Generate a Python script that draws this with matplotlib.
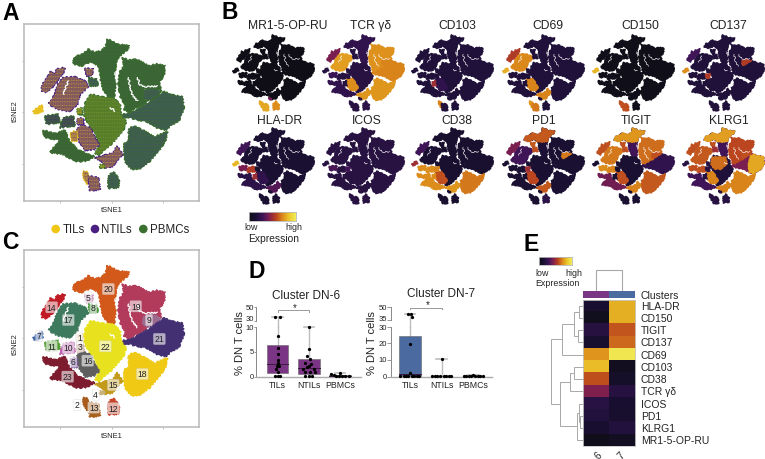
import matplotlib
matplotlib.use("Agg")
import matplotlib.pyplot as plt
from matplotlib.colors import LinearSegmentedColormap
from matplotlib.patches import Polygon, Circle

plt.rcParams['font.family'] = ['Liberation Sans', 'DejaVu Sans']
W, H = 765, 460
fig = plt.figure(figsize=(W/100, H/100), dpi=100)
GREY = '#b8b8b8'
TXT = '#222222'

# ------------------ data ------------------
CLUSTER_SHAPES = {
 20: [(320,125),(335,130),(350,140),(388,145),(380,160),(365,170),(352,183),(348,205),(342,235),(348,262),(342,300),(322,297),(310,275),(302,250),(300,225),(295,205),(272,192),(245,205),(218,198),(225,178),(248,170),(265,155),(285,165),(305,160),(318,145)],
 19: [(368,180),(385,188),(410,185),(445,205),(470,200),(495,205),(492,232),(478,255),(485,280),(455,275),(432,275),(425,300),(440,310),(432,322),(405,332),(388,345),(372,335),(375,320),(362,300),(355,265),(358,225),(372,205)],
 9:  [(432,278),(458,272),(482,282),(470,298),(445,310),(428,300)],
 21: [(362,352),(395,345),(430,325),(450,312),(480,292),(490,282),(515,292),(548,297),(552,335),(538,368),(510,385),(500,398),(470,390),(440,372),(405,365),(380,358),(360,367)],
 18: [(385,395),(402,385),(430,398),(462,418),(503,402),(495,432),(478,458),(450,490),(425,512),(395,515),(378,498),(372,470),(372,440),(388,425)],
 22: [(272,290),(300,297),(340,302),(360,318),(362,350),(378,372),(370,398),(345,428),(318,455),(296,472),(285,466),(298,442),(285,405),(270,388),(252,352),(255,318)],
 15: [(350,445),(368,470),(350,490),(340,505),(318,512),(305,490),(285,482),(318,472),(340,465)],
 16: [(245,382),(272,392),(285,422),(298,442),(282,455),(255,458),(240,435),(230,412),(230,395)],
 23: [(130,398),(165,408),(195,398),(208,430),(232,455),(262,470),(285,476),(262,490),(225,492),(190,470),(150,465),(165,445),(182,428),(150,422),(132,418)],
 17: [(190,240),(225,238),(258,252),(265,268),(240,290),(232,320),(208,342),(172,335),(145,318),(165,290),(172,262)],
 14: [(125,265),(145,235),(150,222),(165,230),(170,215),(195,210),(190,225),(165,260),(140,285),(125,280)],
 5:  [(255,212),(280,215),(275,235),(260,235)],
 8:  [(265,240),(290,245),(295,265),(270,265)],
 7:  [(100,340),(125,322),(130,340),(105,350)],
 11: [(135,355),(175,350),(180,375),(140,380)],
 10: [(190,360),(220,355),(225,385),(180,390)],
 1:  [(232,330),(245,330),(245,350),(232,350)],
 3:  [(230,360),(250,360),(250,380),(230,380)],
 6:  [(212,405),(230,400),(232,430),(215,430)],
 4:  [(300,500),(315,503),(312,512),(300,510)],
 2:  [(250,520),(265,525),(262,560),(250,540)],
 13: [(265,535),(295,540),(300,575),(270,580)],
 12: [(325,535),(340,522),(358,545),(355,570),(325,572)],
}
WHITE_GAPS = [[(412,240),(420,262),(440,268),(472,266)],[(385,240),(395,290),(412,310)],[(345,225),(352,250)],[(205,250),(190,290)],[(330,330),(345,340)]]
CLUSTER_COLORS = {20:'#d2591a',19:'#b23a5b',9:'#9c6a8e',21:'#433073',18:'#efc914',22:'#e8e21e',15:'#c49a1a',
 16:'#5e5e5e',23:'#7d1c2e',17:'#3e7a5e',14:'#c01a24',5:'#d7a0c8',8:'#4c9a3e',7:'#3a5fa8',11:'#56a038',
 10:'#c060b0',1:'#f0d8b8',3:'#c8a090',6:'#7d5a9e',4:'#c9b27a',2:'#a85a1a',13:'#a8601c',12:'#c8452a'}
CLUSTER_LABELS = {20:(325,195),19:(407,247),9:(447,288),21:(478,345),22:(316,367),18:(427,450),15:(340,483),
 16:(263,410),23:(203,458),17:(205,288),14:(155,250),5:(265,220),8:(280,252),7:(117,336),11:(155,367),
 10:(205,372),1:(238,340),3:(240,368),6:(220,413),4:(287,512),2:(232,543),13:(281,551),12:(340,553)}

T, N, P = '#e8c020', '#4b2080', '#3a6f2b'
G_N = '#3c5a42'   # green speckled with a little purple
G_N2 = '#45487a'  # green speckled with more purple
G_T = '#8a9a2a'   # green speckled with yellow
# base colour, speckle colour per cluster
TISSUE_MIX = {20:(P,G_N),19:(P,G_N),9:(P,G_N2),21:(P,G_N2),18:(P,G_N2),22:(P,G_T),15:(N,T),16:(N,T),23:(P,G_N),17:(N,T),14:(N,T),
 5:(N,T),8:(P,G_N2),7:(T,T),11:(P,N),10:(P,N),1:(P,T),3:(N,T),6:(T,N),4:(P,T),2:(T,N),13:(N,T),12:(P,G_N2)}

MARKERS = ['MR1-5-OP-RU','TCR γδ','CD103','CD69','CD150','CD137','HLA-DR','ICOS','CD38','PD1','TIGIT','KLRG1']
MARKER_BASE = [.01,.2,.17,.17,.02,.17,.14,.2,.13,.14,.14,.2]
MARKER_HIGH = {
 'MR1-5-OP-RU':{2:.78,13:.78,12:.72,4:.4},
 'TCR γδ':{17:.76,14:.42,19:.73,21:.7,18:.74,16:.72,15:.74,9:.7,20:.24,23:.24,11:.28,12:.22},
 'CD103':{6:.5,2:.7,16:.24},
 'CD69':{17:.71,16:.7,15:.7,14:.55,7:.8,2:.74,13:.68},
 'CD150':{7:.82,13:.6,2:.6},
 'CD137':{7:.72,9:.55,3:.55,14:.3},
 'HLA-DR':{7:.82,10:.55,11:.42,6:.5,16:.24,15:.34,23:.22,14:.3},
 'ICOS':{11:.32,3:.3},
 'CD38':{23:.72,15:.74,18:.68,11:.72,10:.72,16:.6,6:.72,3:.7,17:.14,14:.3,7:.5},
 'PD1':{20:.16,17:.3,14:.42,9:.68,16:.58,15:.62,5:.62,8:.6,3:.5,12:.22},
 'TIGIT':{20:.3,19:.66,21:.24,17:.68,14:.6,18:.62,15:.7,11:.72,10:.7,16:.6,23:.4,5:.6,8:.6,9:.6},
 'KLRG1':{20:.3,19:.58,21:.42,18:.7,22:.17,17:.62,14:.6,16:.7,15:.7,11:.6,10:.6,23:.3,5:.6,8:.5,9:.6},
}
TOP_20 = [(320,125),(335,130),(350,140),(388,145),(380,160),(365,170),(352,183),(348,205),(300,210),(272,192),(245,205),(218,198),(225,178),(248,170),(265,155),(285,165),(305,160),(318,145)]
RIGHT_21 = [(480,292),(490,282),(515,292),(548,297),(552,335),(538,368),(510,385),(500,398),(470,390),(465,335)]
TOP_22 = [(262,300),(300,297),(340,302),(345,340),(310,372),(275,370),(258,345)]
MARKER_PATCHES = {
 'KLRG1':[(TOP_20,.76),(RIGHT_21,.78),(TOP_22,.66)],
 'TIGIT':[(TOP_20,.74)],
 'PD1':[(TOP_20,.62)],
}
COLS_B = [233,323,412,503,593,683]
ROWS_B = [36,129]
TITLE_X = [288,371,457.5,548,640,728,280,367,457,544,636,729]

HEAT_ROWS = ['HLA-DR','CD150','TIGIT','CD137','CD69','CD103','CD38','TCR γδ','ICOS','PD1','KLRG1','MR1-5-OP-RU']
HEAT_6 = [.13,.05,.2,.12,.74,.83,.6,.43,.21,.18,.13,.04]
HEAT_7 = [.8,.8,.61,.65,.97,.06,.1,.2,.13,.12,.18,.07]
MERGES = [(0,1,11),(2,3,13),(12,13,26),(14,4,63),(5,6,25),(16,7,38),(9,10,9),(8,18,11),(19,11,16),(17,20,68),(15,21,95)]
EXPR_COLORS = ['#0e0e14','#1a1033','#3a1458','#7e1f4f','#b8401f','#dc8a1a','#ecc82c','#f2ee58']

CATS = ['TILs','NTILs','PBMCs']
DN6_BOX = {'TILs':(.8,2.5,6.3,0,35),'NTILs':(.5,1.7,3.5,0,9.9),'PBMCs':(0,.1,.3,0,.8)}
DN6_VALS = {'TILs':[35,35.5,8.1,5.7,4.5,3.3,2.7,2.2,1.5,2.2,.9,.1,.1,.1],
            'NTILs':[9.9,5.5,4.1,3.5,2.7,2.5,2.1,1.9,1.5,1.5,.9,.9,1.0,.1,.1,.1],
            'PBMCs':[.8,.5,.3,.2,.1,.1,.1,.1]}
DN6_JIT = {'TILs':[-.09,.08,0,0,0,0,0,-.03,-.06,.05,0,-.09,.08,0],
           'NTILs':[0,0,-.05,.03,-.13,.08,.01,-.07,-.2,.16,-.13,.03,.19,-.11,0,.11],
           'PBMCs':[0,-.29,-.21,-.14,-.05,.05,.16,.27]}
DN7_BOX = {'TILs':(.5,1.4,24.6,0,42.5),'NTILs':(0,.1,.3,0,10.8),'PBMCs':(0,.2,.6,0,1.3)}
DN7_VALS = {'TILs':[42.5,42,38.6,19.6,2,.7,.6,.6,.5,.5,.5,.6,.7],
            'NTILs':[10.8,.2,.2,.2,.2,.2,.2,.2,.2],
            'PBMCs':[1.2,.3,.3,.3,.3,.3,.3,.3,.3]}
DN7_JIT = {'TILs':[-.06,.02,.05,0,0,-.3,-.2,-.12,-.05,.05,.13,.21,.28],
           'NTILs':[0,-.3,-.22,-.14,-.06,.06,.14,.22,.3],
           'PBMCs':[0,-.3,-.22,-.14,-.06,.06,.14,.22,.3]}

# ------------------ helpers ------------------
def box_ax(x0, y0, x1, y1, **kw):
    return fig.add_axes([x0/W, 1-y1/H, (x1-x0)/W, (y1-y0)/H], **kw)
def label(x, y, s, size, **kw):
    kw.setdefault('ha','center'); kw.setdefault('va','center'); kw.setdefault('color',TXT)
    fig.text(x/W, 1-y/H, s, fontsize=size, **kw)
def rough(p, scale):
    p.set_sketch_params(scale=scale, length=3.5, randomness=3)
    return p

expr_cmap = LinearSegmentedColormap.from_list('expr', EXPR_COLORS)

def tsne_frame(y0, y1):
    ax = box_ax(24.3, y0, 198.7, y1)
    ax.set_xlim(73,596); ax.set_ylim(610,78)
    ax.set_xticks([181,335,488]); ax.set_yticks([190,343,498])
    ax.set_xticklabels([]); ax.set_yticklabels([])
    ax.tick_params(length=1.5, width=.6, color=GREY)
    for s in ax.spines.values():
        s.set_color(GREY); s.set_linewidth(1.1)
    return ax

def gaps(ax, lw):
    for g in WHITE_GAPS:
        ln, = ax.plot(*zip(*g), color='white', lw=lw, solid_capstyle='round')
        ln.set_sketch_params(scale=.8, length=4, randomness=3)

axA = tsne_frame(24.5, 202)
plt.rcParams['hatch.linewidth'] = .6
for c, pts in CLUSTER_SHAPES.items():
    face, sp = TISSUE_MIX[c]
    axA.add_patch(rough(Polygon(pts, closed=True, facecolor=face, edgecolor=face, linewidth=.9, joinstyle='round'), .8))
    axA.add_patch(Polygon(pts, closed=True, facecolor='none', edgecolor=sp, hatch='.'*12, linewidth=0))
gaps(axA, .9)

axC = tsne_frame(251, 428.3)
for c, pts in CLUSTER_SHAPES.items():
    axC.add_patch(rough(Polygon(pts, closed=True, facecolor=CLUSTER_COLORS[c], edgecolor=CLUSTER_COLORS[c], linewidth=.9, joinstyle='round'), .8))
gaps(axC, .9)
for c, (x, y) in CLUSTER_LABELS.items():
    axC.text(x, y, str(c), fontsize=6.2, ha='center', va='center', color='#222',
             bbox=dict(boxstyle='round,pad=0.12', fc='white', ec='#cccccc', lw=.4, alpha=.6))

label(111.7,210.7,'tSNE1',5.4); label(15,111,'tSNE2',5.4,rotation=90)
label(111.7,437,'tSNE1',5.4); label(15.7,344,'tSNE2',5.4,rotation=90)

lax = box_ax(0,0,W,H); lax.set_xlim(0,W); lax.set_ylim(H,0); lax.axis('off')
for dx, tx, col, s in [(55.7,62.7,'#efc516','TILs'),(95,101,'#4b1f82','NTILs'),(143.3,150,'#3a7030','PBMCs')]:
    lax.add_patch(Circle((dx,230),4.3,fc=col,ec='none'))
    lax.text(tx,230,s,fontsize=8.3,va='center',ha='left',color=TXT)

for s,x,y in [('A',10.5,13),('B',229.5,12.5),('C',10.5,243),('D',257,272),('E',531,245)]:
    label(x,y,s,16.5,fontweight='bold',color='black')

# panel B
for i, m in enumerate(MARKERS):
    x0 = COLS_B[i%6]; y0 = ROWS_B[i//6]
    ax = box_ax(x0, y0, x0+81, y0+76)
    ax.set_xlim(100,552); ax.set_ylim(580,125); ax.axis('off')
    for c, pts in CLUSTER_SHAPES.items():
        col = expr_cmap(MARKER_HIGH[m].get(c, MARKER_BASE[i]))
        ax.add_patch(rough(Polygon(pts, closed=True, facecolor=col, edgecolor=col, linewidth=1.1, clip_on=False, joinstyle='round'), .5))
    for pts, v in MARKER_PATCHES.get(m, []):
        col = expr_cmap(v)
        ax.add_patch(rough(Polygon(pts, closed=True, facecolor=col, edgecolor=col, linewidth=1, clip_on=False, joinstyle='round'), .5))
    gaps(ax, .45)
    label(TITLE_X[i], 26 if i<6 else 121, m, 8.7)

cb = box_ax(249.3,212.7,295.7,221.7)
cb.imshow([[j/255 for j in range(256)]], aspect='auto', cmap=expr_cmap, vmin=0, vmax=1)
cb.set_xticks([]); cb.set_yticks([])
for s in cb.spines.values(): s.set_color(GREY); s.set_linewidth(.6)
label(250.7,227.3,'low',6.4); label(294.3,227.3,'high',6.4); label(273.3,238.7,'Expression',7.4)

# panel D
def broken_box(x0, x1, y_low_bot, y_low_top, y_up_bot, y_up_top, low_lim, up_lim, low_ticks, up_ticks, boxes, vals, jit, color, cat_lim, lab_y, tick_px):
    lo = box_ax(x0, y_low_top, x1, y_low_bot)
    up = box_ax(x0, y_up_top, x1, y_up_bot)
    lo.set_ylim(*low_lim); up.set_ylim(*up_lim)
    for a in (lo, up):
        a.set_xlim(*cat_lim); a.patch.set_alpha(0)
        for s in ['top','right']: a.spines[s].set_visible(False)
        a.spines['left'].set_color('#888888'); a.spines['left'].set_linewidth(.7)
        a.tick_params(axis='y', length=tick_px*.72, width=.6, color='#888888', labelleft=False)
    up.spines['bottom'].set_visible(False); up.set_xticks([])
    lo.spines['bottom'].set_color('#aaaaaa'); lo.spines['bottom'].set_linewidth(1)
    lo.set_yticks(low_ticks); up.set_yticks(up_ticks)
    lo.set_xticks(range(3)); lo.set_xticklabels(CATS)
    lo.tick_params(axis='x', length=0, labelsize=6.3, pad=2.5, labelcolor=TXT)
    for tick, yp in zip(list(low_ticks)+list(up_ticks), lab_y):
        label(x0-tick_px-.3, yp, str(tick), 5.5, ha='right')
    for k, cat in enumerate(CATS):
        q1, med, q3, wlo, whi = boxes[cat]
        lo.plot([k,k],[q3,min(whi,low_lim[1])],color='#bdbdbd',lw=1,zorder=1)
        if whi > low_lim[1]:
            xp = lo.transData.transform((k,0))[0]/fig.dpi*100
            lax.plot([xp,xp],[y_low_top,y_up_bot],color='#bdbdbd',lw=1,zorder=1)
            up.plot([k,k],[up_lim[0],whi],color='#bdbdbd',lw=1,zorder=1)
            up.plot([k-.17,k+.17],[whi,whi],color='#bdbdbd',lw=1.2,zorder=1)
        else:
            lo.plot([k-.17,k+.17],[whi,whi],color='#bdbdbd',lw=1.2,zorder=1,clip_on=False)
        lo.bar(k,q3-q1,bottom=q1,width=.68,color=color,edgecolor='#666666',lw=.4,zorder=2)
        lo.plot([k-.34,k+.34],[med,med],color='#3a1a40',lw=.7,zorder=3)
        xs = [k+j for j in jit[cat]]
        for a, lim in ((lo, low_lim), (up, up_lim)):
            sel = [(x,v) for x,v in zip(xs, vals[cat]) if lim[0] <= v <= lim[1]]
            if sel:
                a.scatter(*zip(*sel), s=5.5, color='black', zorder=4, linewidths=0, clip_on=False)
    return lo, up

lo6, up6 = broken_box(255.7,361,377.7,327.7,321.7,308,(0,10),(30,50),[0,5,10],[30,50],DN6_BOX,DN6_VALS,DN6_JIT,'#7b3585',(-.706,2.67),[377.7,352,329,319.6,308],1.7)
lo7, up7 = broken_box(391,492,377.7,327.7,320.7,308.3,(0,30),(35,50),[0,10,20,30],[35,50],DN7_BOX,DN7_VALS,DN7_JIT,'#4a6aa0',(-.6,2.59),[377.7,361,344.4,329,319.8,308.3],4)
for x0,x1,yb,xs,ys in [(277.7,309,311,295,307.5),(410,441.7,308.5,427.5,305)]:
    lax.plot([x0,x0,x1,x1],[yb+1.5,yb,yb,yb+1.5],color='#999999',lw=.7)
    lax.text(xs,ys+.5,'*',fontsize=7,ha='center',va='center',color=TXT)
label(305.7,295.7,'Cluster DN-6',8.5); label(441,294,'Cluster DN-7',8.5)
label(240,343,'% DN T cells',8,rotation=90); label(372,343,'% DN T cells',8,rotation=90)

# panel E
hm = box_ax(582.7,300.7,635.3,447.3)
hm.imshow([[a,b] for a,b in zip(HEAT_6,HEAT_7)], aspect='auto', cmap=expr_cmap, vmin=0, vmax=1, interpolation='nearest')
hm.set_xticks([]); hm.set_yticks([])
for s in hm.spines.values(): s.set_color('#c8c8c8'); s.set_linewidth(.6)
for i, m in enumerate(HEAT_ROWS):
    label(640.7, 300.7+(i+.5)*146.6/12, m, 7.5, ha='left')
an = box_ax(582.7,292.3,635.3,298.7)
an.set_xlim(0,2); an.set_ylim(0,1); an.axis('off')
an.bar([.5,1.5],[1,1],width=1,color=['#7b3585','#4a6aa0'])
label(640.7,295.7,'Clusters',7.5,ha='left')
label(598,455.7,'6',7,rotation=45); label(621.7,455.7,'7',7,rotation=45)

ecb = box_ax(539.3,257.7,571.7,266)
ecb.imshow([[j/255 for j in range(256)]], aspect='auto', cmap=expr_cmap, vmin=0, vmax=1)
ecb.set_xticks([]); ecb.set_yticks([])
for s in ecb.spines.values(): s.set_color(GREY); s.set_linewidth(.6)
label(541.7,273.7,'low',6.4); label(574,273.7,'high',6.4); label(557,283.7,'Expression',6.4)

den = box_ax(551,300.7,582.7,447.3)
den.set_xlim(95,0); den.set_ylim(12,0); den.axis('off')
pos = {i:(i+.5,0) for i in range(12)}
nid = 12
for a,b,h in MERGES:
    ya,ha = pos[a]; yb,hb = pos[b]
    den.plot([ha,h,h,hb],[ya,ya,yb,yb],color='#a8a8a8',lw=.7,clip_on=False,solid_joinstyle='miter')
    pos[nid] = ((ya+yb)/2,h); nid += 1
top = box_ax(595.7,271.3,622.3,291)
top.set_xlim(0,1); top.set_ylim(0,1); top.axis('off')
top.plot([0,0,1,1],[0,1,1,0],color='#a8a8a8',lw=.8,clip_on=False)

fig.savefig('out.png', dpi=100)
